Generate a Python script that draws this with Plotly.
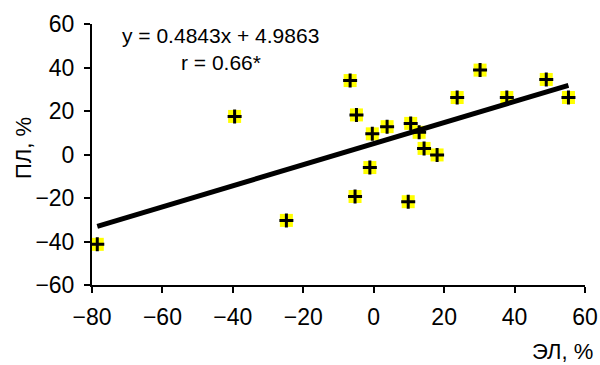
import plotly.graph_objects as go

# Data
el = [-78.5, -39.5, -24.8, -6.7, -4.9, -5.3, -1.1, -0.4, 3.8, 10.5, 12.9, 9.8,
      14.3, 18.0, 23.7, 30.2, 37.8, 49.0, 55.3]
pl = [-41.3, 17.5, -30.3, 34.0, 18.2, -19.3, -6.0, 9.5, 12.8, 14.3, 10.2, -21.7,
      2.8, -0.2, 26.2, 38.8, 26.2, 34.5, 26.2]
slope = 0.4843
intercept = 4.9863
equation_text = "y = 0.4843x + 4.9863"
r_text = "r = 0.66*"
x_ticks = [-80, -60, -40, -20, 0, 20, 40, 60]
y_ticks = [-60, -40, -20, 0, 20, 40, 60]
x_title = "ЭЛ, %"
y_title = "ПЛ, %"

FONT = "Liberation Sans, Arial, sans-serif"

fig = go.Figure()

# yellow squares
fig.add_trace(go.Scatter(
    x=el, y=pl, mode="markers", cliponaxis=False, showlegend=False,
    marker=dict(symbol="square", size=13, color="#FFFF00", line=dict(width=0)),
    hoverinfo="skip"))
# black crosses
fig.add_trace(go.Scatter(
    x=el, y=pl, mode="markers", cliponaxis=False, showlegend=False,
    marker=dict(symbol="cross-thin", size=10, color="black",
                line=dict(width=3, color="black"))))

# trend line
x0, x1 = min(el), max(el)
fig.add_trace(go.Scatter(
    x=[x0, x1], y=[slope * x0 + intercept, slope * x1 + intercept],
    mode="lines", line=dict(color="black", width=5), showlegend=False,
    cliponaxis=False))

fig.update_layout(
    width=600, height=365,
    margin=dict(l=92, r=15, t=24, b=80),
    paper_bgcolor="white", plot_bgcolor="white",
    font=dict(family=FONT, size=23, color="black"),
    showlegend=False,
    xaxis=dict(range=[-80, 60], tickvals=x_ticks, ticks="outside", ticklen=6,
               tickwidth=2, tickcolor="black", showline=True, linecolor="black",
               linewidth=2, showgrid=False, zeroline=False, automargin=False,
               tickfont=dict(family=FONT, size=23), ticklabelstandoff=4),
    yaxis=dict(range=[-60, 60], tickvals=y_ticks, ticks="outside", ticklen=6,
               tickwidth=2, tickcolor="black", showline=True, linecolor="black",
               linewidth=2, showgrid=False, zeroline=False, automargin=False,
               tickfont=dict(family=FONT, size=23), ticklabelstandoff=5),
    annotations=[
        dict(text=equation_text, x=-43.5, y=54.5, xref="x", yref="y",
             showarrow=False, xanchor="center", yanchor="middle",
             font=dict(family=FONT, size=21, color="black")),
        dict(text=r_text, x=-43.5, y=42.5, xref="x", yref="y",
             showarrow=False, xanchor="center", yanchor="middle",
             font=dict(family=FONT, size=21, color="black")),
        dict(text=x_title, x=(530 - 92) / 493, y=(285 - 351) / 261,
             xref="paper", yref="paper", showarrow=False,
             xanchor="left", yanchor="middle",
             font=dict(family=FONT, size=22, color="black")),
        dict(text=y_title, x=-(92 - 23) / 493, y=(285 - 148) / 261,
             xref="paper", yref="paper", showarrow=False, textangle=-90,
             xanchor="center", yanchor="middle",
             font=dict(family=FONT, size=22, color="black")),
    ],
)

# remove the browser's default body margin so the figure fills the window
fig.write_html("out.html",
               config={"displayModeBar": False},
               post_script="document.body.style.margin='0';"
                           "document.body.style.overflow='hidden';")
